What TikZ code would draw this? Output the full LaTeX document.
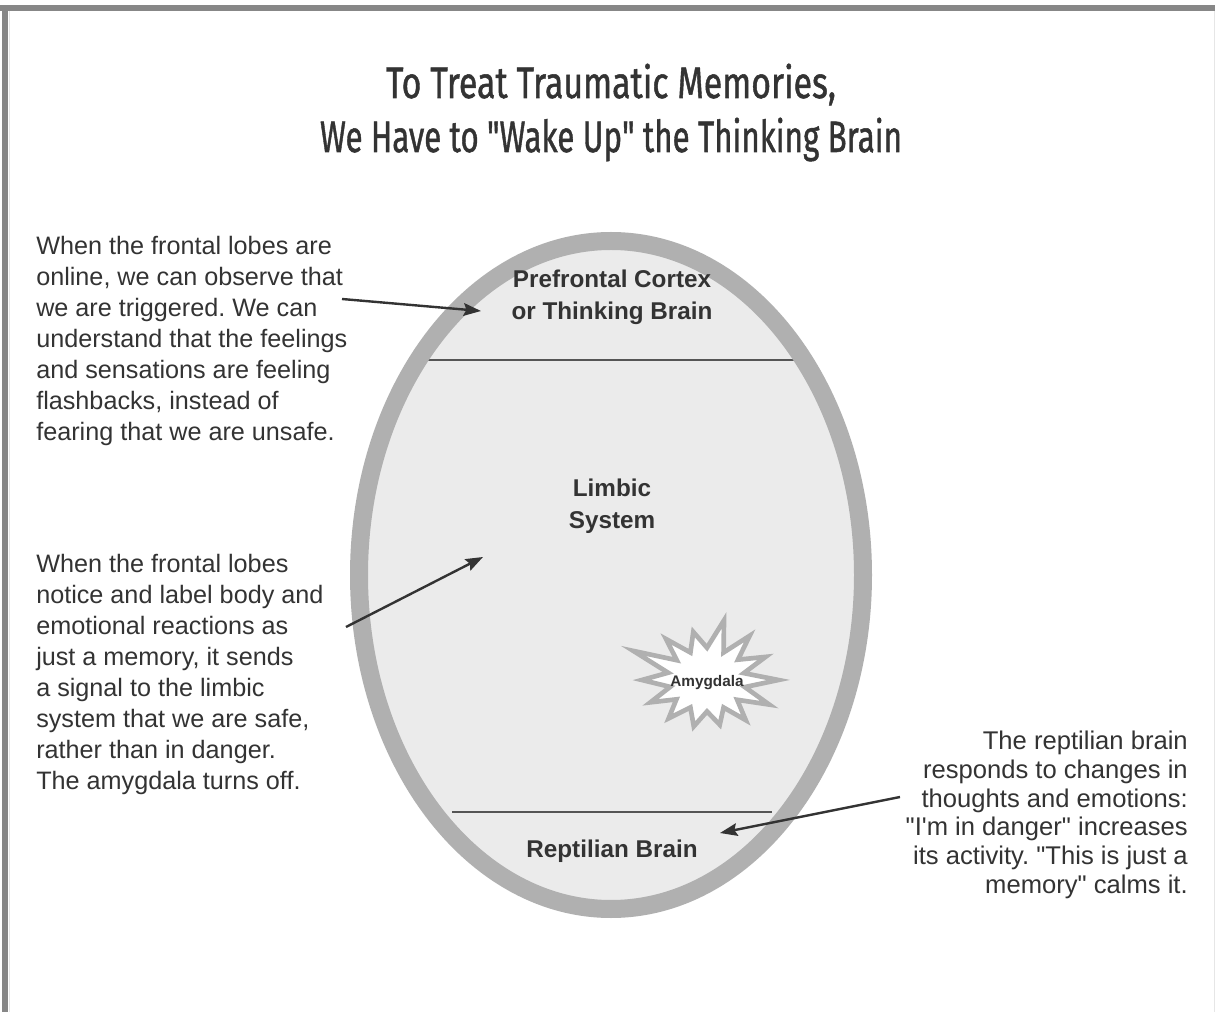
\documentclass[tikz,border=0pt]{standalone}
\usepackage{fontspec}
\usepackage{graphicx}
\setmainfont{Liberation Sans}
\newfontfamily\titlefont{Fira Sans}[FakeBold=1.2]
\usetikzlibrary{arrows.meta}

\definecolor{ink}{HTML}{333333}
\definecolor{framegray}{HTML}{878787}
\definecolor{framelight}{HTML}{E6E6E6}
\definecolor{ringgray}{HTML}{B0B0B0}
\definecolor{innergray}{HTML}{EBEBEB}
\definecolor{divider}{HTML}{555555}
\definecolor{burstedge}{HTML}{B0B0B0}

\newcommand{\dq}{\textquotedbl}
\newcommand{\sq}{\textquotesingle}

\begin{document}
\frenchspacing
\begin{tikzpicture}[x=0.75pt,y=-0.75pt,
  titleline/.style={font=\titlefont\fontsize{33}{36}\selectfont, text=ink, inner sep=0pt, anchor=base},
  body/.style={font=\fontsize{18.9}{23.25}\selectfont, text=ink, inner sep=0pt},
  region/.style={font=\bfseries\fontsize{18.2}{24}\selectfont, text=ink, align=center, inner sep=0pt, anchor=base},
  pointer/.style={draw=ink, line width=1.8pt, -{Stealth[length=13pt,width=9.5pt,inset=2pt]}},
  divline/.style={draw=divider, line width=1.5pt},
]
\useasboundingbox (0,0) rectangle (1215,1012);
\fill[white] (0,0) rectangle (1215,1012);

% frame along the top and the sides
\fill[framegray] (0,5) rectangle (1215,11);
\fill[framegray] (2,5) rectangle (8,1012);
\draw[framelight, line width=0.75pt] (9,11) -- (9,1012);
\draw[framelight, line width=0.75pt] (1214,11) -- (1214,1012);

% title
\node[titleline] (title1) at (611,98) {\resizebox{337.5pt}{\height}{To Treat Traumatic Memories,}};
\node[titleline] (title2) at (611,152) {\resizebox{436.5pt}{\height}{We Have to \dq Wake Up\dq{} the Thinking Brain}};

% the brain: filled ellipse, region dividers, ring on top
\fill[innergray] (611,575) ellipse [x radius=252, y radius=334];
\draw[divline] (416,360) -- (806,360);
\draw[divline] (452,812) -- (772,812);
\draw[ringgray, line width=13.5pt] (611,575) ellipse [x radius=252, y radius=334];

% region labels (base = baseline of the last line)
\node[region] (pfc) at (612,320) {Prefrontal Cortex\\or Thinking Brain};
\node[region] (limbic) at (612,529) {Limbic\\System};
\node[region] (rept) at (612,857) {Reptilian Brain};

% amygdala starburst
\foreach \a/\r [count=\i] in {0/68,13/36,26/62,39/38,52/66,64/36,77/72,90/38,103/58,116/36,129/62,141/37,154/78,167/38,180/62,193/36,206/60,218/37,231/58,244/36,257/56,270/37,283/54,296/36,308/60,321/37,334/66,347/37}
  \coordinate (b\i) at ({707+1.05*\r*cos(\a)},{680-0.85*\r*sin(\a)});
\filldraw[fill=white, draw=burstedge, line width=3.5pt, line join=miter]
  (b1) \foreach \i in {2,...,28} {-- (b\i)} -- cycle;
\node[font=\bfseries\fontsize{11.5}{12}\selectfont, text=ink, inner sep=0pt] (amyg) at (707,683) {Amygdala};

% side notes (base = baseline of the last line)
\node[body, align=left, anchor=base west] (note1) at (36,441) {When the frontal lobes are\\online, we can observe that\\we are triggered. We can\\understand that the feelings\\and sensations are feeling\\flashbacks, instead of\\fearing that we are unsafe.};
\node[body, align=left, anchor=base west] (note2) at (36,789) {When the frontal lobes\\notice and label body and\\emotional reactions as\\just a memory, it sends\\a signal to the limbic\\system that we are safe,\\rather than in danger.\\The amygdala turns off.};
\node[body, align=right, anchor=base east, font=\fontsize{19.2}{21.5}\selectfont] (note3) at (1188,893) {The reptilian brain\\responds to changes in\\thoughts and emotions:\\\dq I\sq m in danger\dq{} increases\\its activity. \dq This is just a\\memory\dq{} calms it.};

% pointers
\coordinate (p1s) at (342,299);
\coordinate (p1e) at (481,311);
\coordinate (p2s) at (346,627);
\coordinate (p2e) at (483,557);
\coordinate (p3s) at (900,797);
\coordinate (p3e) at (720,833);
\draw[pointer] (p1s) -- (p1e);
\draw[pointer] (p2s) -- (p2e);
\draw[pointer] (p3s) -- (p3e);
\end{tikzpicture}
\end{document}
